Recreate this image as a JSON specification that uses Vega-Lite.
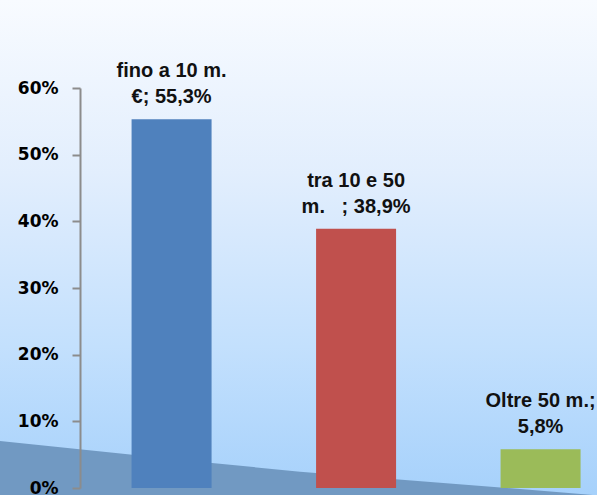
{
  "$schema": "https://vega.github.io/schema/vega-lite/v6.json",
  "width": 597,
  "height": 495,
  "padding": 0,
  "autosize": {"type": "none"},
  "view": {
    "stroke": null,
    "fill": {
      "gradient": "linear",
      "x1": 0, "y1": 0, "x2": 0, "y2": 1,
      "stops": [
        {"offset": 0, "color": "#f8fbff"},
        {"offset": 0.35, "color": "#e2eefd"},
        {"offset": 0.7, "color": "#c3e0fd"},
        {"offset": 1, "color": "#a6d1fb"}
      ]
    }
  },
  "datasets": {
    "bars": [
      {"category": "fino a 10 m. €", "value": 55.3, "label": "fino a 10 m.\n€; 55,3%", "color": "#4f81bd"},
      {"category": "tra 10 e 50 m.", "value": 38.9, "label": "tra 10 e 50\nm.\u00a0\u00a0\u00a0; 38,9%", "color": "#c0504d"},
      {"category": "Oltre 50 m.", "value": 5.8, "label": "Oltre 50 m.;\n5,8%", "color": "#9bbb59"}
    ],
    "floor": [
      {"fx": 0, "fy": 7.05},
      {"fx": 0.355, "fy": 3.75},
      {"fx": 0.5025, "fy": 2.45},
      {"fx": 0.849, "fy": 0},
      {"fx": 1, "fy": -1.1}
    ]
  },
  "layer": [
    {
      "data": {"name": "floor"},
      "mark": {"type": "area", "color": "#7199c2", "opacity": 1},
      "encoding": {
        "x": {"field": "fx", "type": "quantitative", "axis": null, "scale": {"domain": [0, 1], "nice": false, "zero": false}},
        "y": {"field": "fy", "type": "quantitative", "scale": {"domain": [0, 60], "range": [488, 88], "nice": false, "zero": false},
          "axis": {
            "values": [0, 10, 20, 30, 40, 50, 60],
            "labelExpr": "datum.value + '%'",
            "offset": -80,
            "zindex": 2,
            "grid": false,
            "title": null,
            "domainColor": "#8c8c8c",
            "domainWidth": 2,
            "tickColor": "#8c8c8c",
            "tickWidth": 2,
            "tickSize": 8,
            "labelPadding": 14,
            "labelFont": "DejaVu Sans",
            "labelFontWeight": "bold",
            "labelFontSize": 17,
            "labelColor": "#000000"
          }
        },
        "y2": {"datum": -2}
      }
    },
    {
      "data": {"name": "bars"},
      "layer": [
        {
          "mark": {"type": "bar"},
          "encoding": {
            "x": {"field": "category", "type": "nominal", "sort": null, "axis": null,
              "scale": {"paddingInner": 0.5664, "paddingOuter": 0.4011, "align": 0.889}},
            "y": {"field": "value", "type": "quantitative"},
            "y2": {"datum": 0},
            "color": {"field": "color", "type": "nominal", "scale": null}
          }
        },
        {
          "mark": {"type": "text", "baseline": "bottom", "align": "center", "dy": -38, "lineBreak": "\n", "lineHeight": 26, "font": "Liberation Sans", "fontWeight": "bold", "fontSize": 20, "color": "#111111"},
          "encoding": {
            "x": {"field": "category", "type": "nominal", "sort": null},
            "y": {"field": "value", "type": "quantitative"},
            "text": {"field": "label"}
          }
        }
      ]
    }
  ],
  "resolve": {"scale": {"x": "independent"}}
}
